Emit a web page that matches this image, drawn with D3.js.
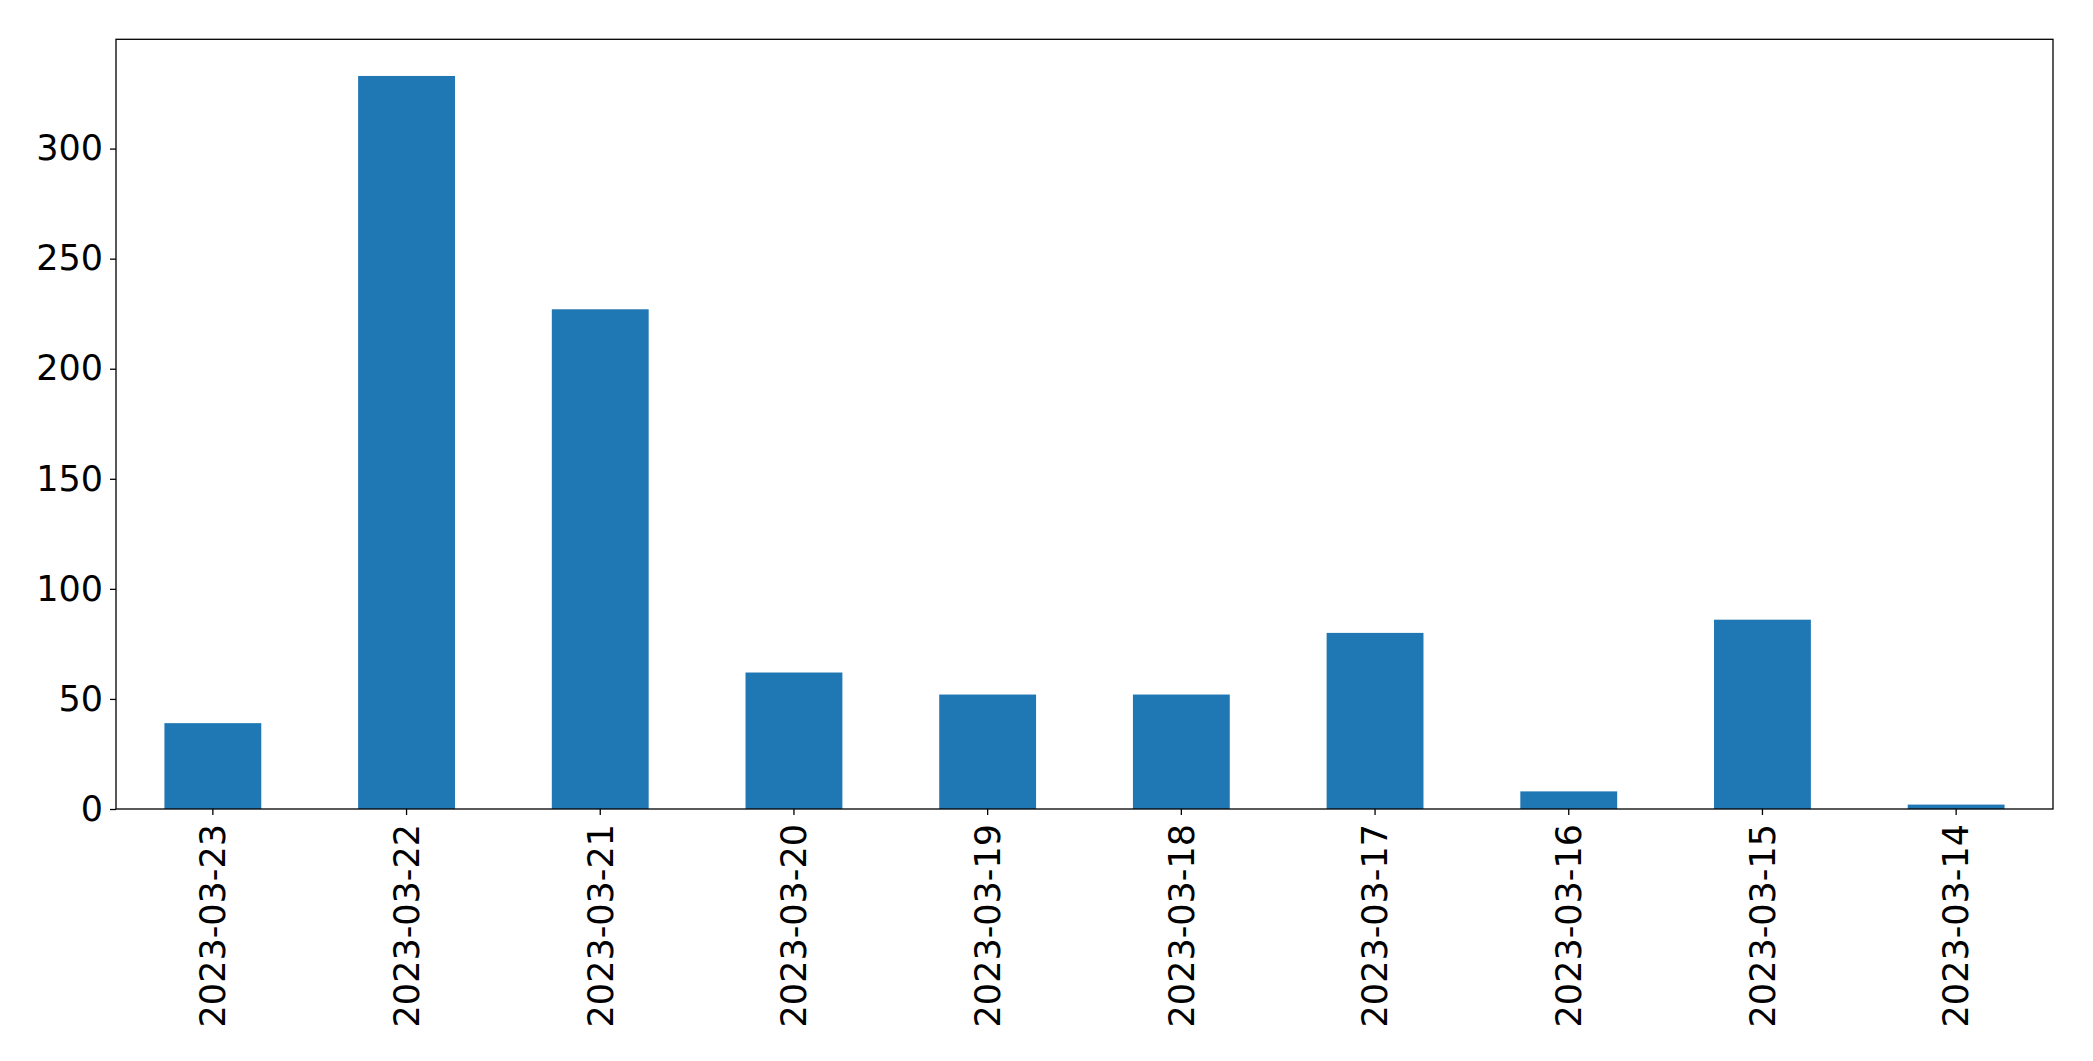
<!DOCTYPE html>
<html>
<head>
<meta charset="utf-8">
<script src="https://cdn.jsdelivr.net/npm/d3@7"></script>
<style>
  html, body { margin: 0; padding: 0; background: #ffffff; }
  svg { display: block; }
  text { font-family: "DejaVu Sans", sans-serif; fill: #000; }
</style>
</head>
<body>
<svg id="chart" width="2093" height="1061"></svg>
<script>
const categories = ["2023-03-23", "2023-03-22", "2023-03-21", "2023-03-20", "2023-03-19",
                    "2023-03-18", "2023-03-17", "2023-03-16", "2023-03-15", "2023-03-14"];
const values = [39, 333, 227, 62, 52, 52, 80, 8, 86, 2];
const yTicks = [0, 50, 100, 150, 200, 250, 300];

const W = 2093, H = 1061;
const plotLeft = 116, plotRight = 2053, plotTop = 39.3, plotBottom = 809;
const fontSize = 35;
const barColor = "#1f77b4";

const svg = d3.select("#chart");

const x = d3.scaleBand().domain(categories).range([plotLeft, plotRight]).paddingInner(0.5).paddingOuter(0.25);
const yMax = d3.max(values) * 1.05;
const y = d3.scaleLinear().domain([0, yMax]).range([plotBottom, plotTop]);

svg.append("g").selectAll("rect").data(values).join("rect")
  .attr("x", (d, i) => x(categories[i]))
  .attr("width", x.bandwidth())
  .attr("y", d => y(d))
  .attr("height", d => y(0) - y(d))
  .attr("fill", barColor);

// frame
svg.append("rect")
  .attr("x", plotLeft).attr("y", plotTop)
  .attr("width", plotRight - plotLeft).attr("height", plotBottom - plotTop)
  .attr("fill", "none").attr("stroke", "#000").attr("stroke-width", 1.3);

const yAxis = svg.append("g").attr("transform", `translate(${plotLeft},0)`)
  .call(d3.axisLeft(y).tickValues(yTicks).tickSize(6).tickPadding(7).tickFormat(d3.format("d")));
yAxis.select(".domain").remove();
yAxis.selectAll("line").attr("stroke", "#000").attr("stroke-width", 1.3);
yAxis.selectAll("text").style("font-size", fontSize + "px").attr("fill", "#000")
  .style("font-family", "DejaVu Sans, sans-serif");

const xAxis = svg.append("g").attr("transform", `translate(0,${plotBottom})`)
  .call(d3.axisBottom(x).tickSize(6).tickPadding(6));
xAxis.select(".domain").remove();
xAxis.selectAll("line").attr("stroke", "#000").attr("stroke-width", 1.3);
xAxis.selectAll("text")
  .style("font-size", fontSize + "px").attr("fill", "#000")
  .style("font-family", "DejaVu Sans, sans-serif")
  .attr("transform", "rotate(-90)")
  .attr("text-anchor", "end")
  .attr("x", -15).attr("y", 0).attr("dy", "0.35em");
</script>
</body>
</html>
